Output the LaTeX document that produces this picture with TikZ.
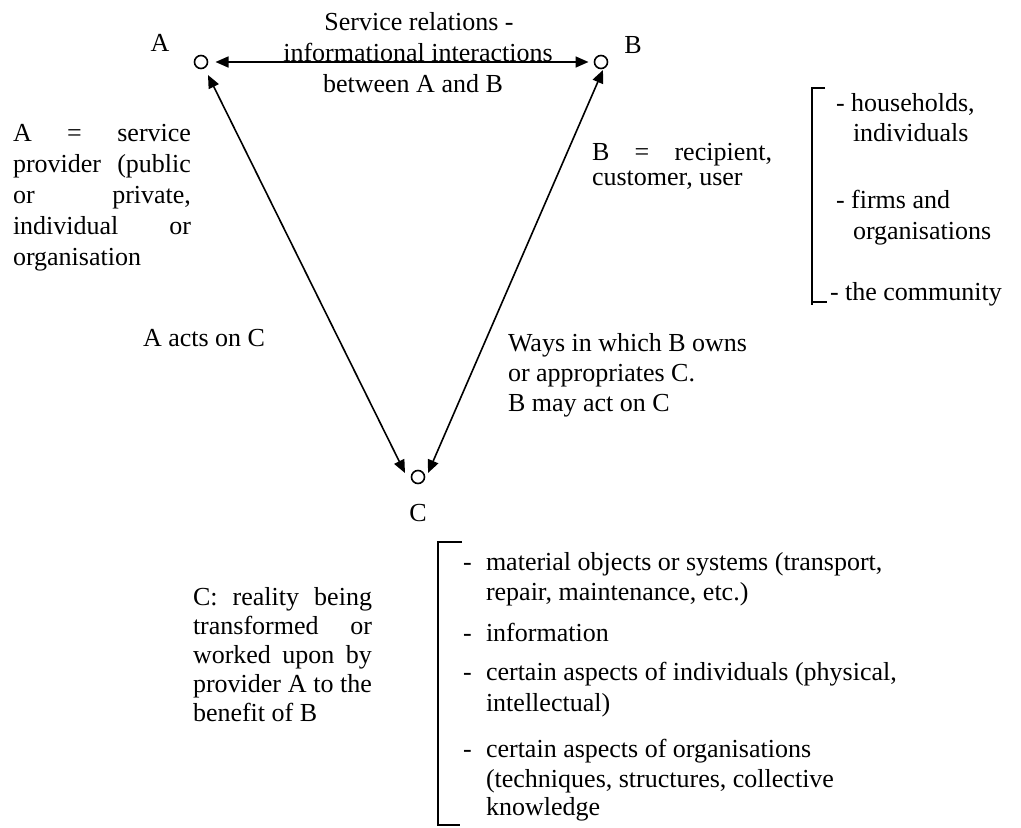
\documentclass[tikz,border=0pt]{standalone}
\usepackage{fontspec}
\setmainfont{Liberation Serif}
\usetikzlibrary{arrows.meta}
\newcommand{\myjust}[2]{\hbox to #1{\spaceskip=\fontdimen2\font plus 1fil\relax #2}}
\begin{document}
\begin{tikzpicture}[x=1pt,y=-1pt,
  every node/.style={font=\fontsize{26}{30}\selectfont, inner sep=0pt, outer sep=0pt},
  dot/.style={circle, draw, minimum size=13pt, line width=1.6pt},
  txt/.style={anchor=base west},
  ctr/.style={anchor=base},
  arr/.style={{Triangle[length=13pt,width=11pt]}-{Triangle[length=13pt,width=11pt]}, line width=1.6pt},
  brk/.style={line width=1.8pt}]
\useasboundingbox (0,0) rectangle (1021,828);
% vertices
\node[dot] (A) at (201,62) {};
\node[dot] (B) at (601,62) {};
\node[dot] (C) at (418,477) {};
\node[ctr] (lA) at (160,51) {A};
\node[ctr] (lB) at (633,53) {B};
\node[ctr] (lC) at (418,521) {C};
% connectors
\draw[arr, shorten <=8pt, shorten >=6pt] (A) -- (B);
\draw[arr] ([shift={(7,13)}]A.center) -- ([shift={(-13,-4)}]C.center);
\draw[arr] ([shift={(2,8)}]B.center) -- ([shift={(10,-4)}]C.center);
% top label
\node[ctr] (t1) at (419,30) {Service relations -};
\node[ctr] (t2) at (418,61) {informational interactions};
\node[ctr] (t3) at (413,92) {between A and B};
% A description
\node[txt] (a1) at (13,141) {\myjust{178pt}{A = service}};
\node[txt] (a2) at (13,172) {\myjust{178pt}{provider (public}};
\node[txt] (a3) at (13,203) {\myjust{178pt}{or private,}};
\node[txt] (a4) at (13,234) {\myjust{178pt}{individual or}};
\node[txt] (a5) at (13,265) {organisation};
% B description
\node[txt] (b1) at (592,160) {\myjust{180pt}{B = recipient,}};
\node[txt] (b2) at (592,185) {customer, user};
% right bracket list
\draw[brk] (825,88) -- (812,88) -- (812,305);
\draw[brk] (812,302) -- (827,302);
\node[txt] (r1) at (836,111) {- households,};
\node[txt] (r2) at (853,141) {individuals};
\node[txt] (r3) at (836,208) {- firms and};
\node[txt] (r4) at (853,239) {organisations};
\node[txt] (r5) at (830,300) {- the community};
% side labels
\node[txt] (ac) at (143,346) {A acts on C};
\node[txt] (w1) at (508,351) {Ways in which B owns};
\node[txt] (w2) at (508,381) {or appropriates C.};
\node[txt] (w3) at (508,411) {B may act on C};
% C description
\node[txt] (c1) at (193,605) {\myjust{179pt}{C: reality being}};
\node[txt] (c2) at (193,634) {\myjust{179pt}{transformed or}};
\node[txt] (c3) at (193,663) {\myjust{179pt}{worked upon by}};
\node[txt] (c4) at (193,692) {\myjust{179pt}{provider A to the}};
\node[txt] (c5) at (193,721) {benefit of B};
% bottom bracket list
\draw[brk] (462,542) -- (438,542) -- (438,825) -- (460,825);
\node[txt] (d1) at (463,570) {-};
\node[txt] (m1) at (486,570) {material objects or systems (transport,};
\node[txt] (m2) at (486,600) {repair, maintenance, etc.)};
\node[txt] (d2) at (463,641) {-};
\node[txt] (m3) at (486,641) {information};
\node[txt] (d3) at (463,680) {-};
\node[txt] (m4) at (486,680) {certain aspects of individuals (physical,};
\node[txt] (m5) at (486,711) {intellectual)};
\node[txt] (d4) at (463,757) {-};
\node[txt] (m6) at (486,757) {certain aspects of organisations};
\node[txt] (m7) at (486,787) {(techniques, structures, collective};
\node[txt] (m8) at (486,815) {knowledge};
\end{tikzpicture}
\end{document}
